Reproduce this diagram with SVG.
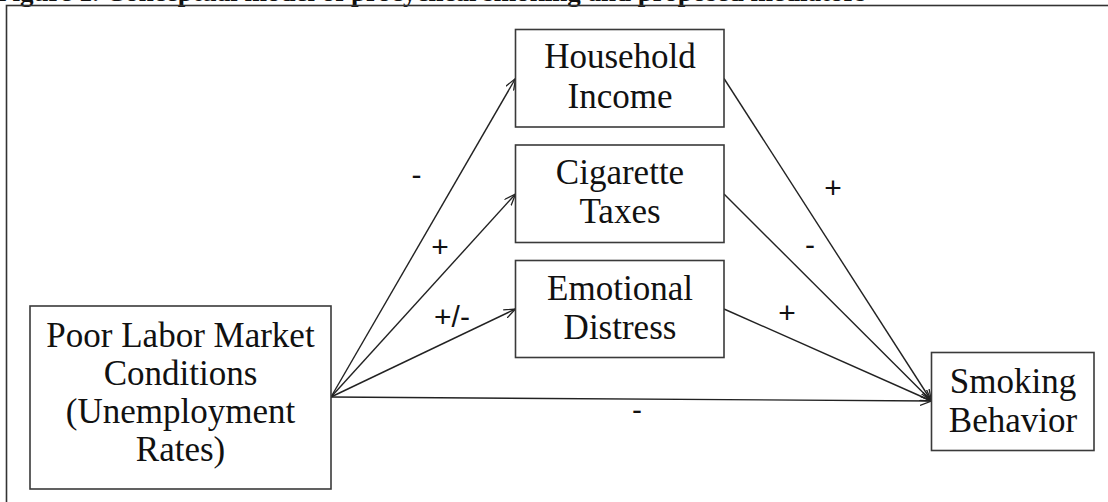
<svg xmlns="http://www.w3.org/2000/svg" width="1108" height="502" viewBox="0 0 1108 502">
<style>
.box{fill:#fff;stroke:#3a3a3a;stroke-width:1.6}
.lbl{font-family:"Liberation Serif","Times New Roman",serif;font-size:35px;fill:#111;text-anchor:middle}
.sign{font-family:"Liberation Sans",Arial,sans-serif;font-size:30px;fill:#111;text-anchor:middle}
.conn{stroke:#222;stroke-width:1.4;fill:none;marker-end:url(#arr)}
</style>
<defs>
<marker id="arr" viewBox="0 0 12 10" refX="11.5" refY="5" markerWidth="12" markerHeight="10" markerUnits="userSpaceOnUse" orient="auto">
<path d="M0,0.5 L11.5,5 L0,9.5" fill="none" stroke="#222" stroke-width="1.3"/>
</marker>
</defs>
<rect width="1108" height="502" fill="#fff"/>
<text x="-4" y="1" font-family="'Liberation Serif','Times New Roman',serif" font-size="27" font-weight="bold" fill="#111">Figure 1. Conceptual model of procyclical smoking and proposed mediators</text>
<rect x="6.5" y="5.5" width="1110" height="510" fill="none" stroke="#333" stroke-width="1.6"/>
<g id="connectors">
<line class="conn" x1="331" y1="397" x2="515.5" y2="78.5"/>
<line class="conn" x1="331" y1="397" x2="515.5" y2="194"/>
<line class="conn" x1="331" y1="397" x2="515.5" y2="309"/>
<line class="conn" x1="331" y1="397" x2="931.5" y2="401"/>
<line class="conn" x1="724" y1="78.5" x2="931.5" y2="401"/>
<line class="conn" x1="724" y1="194" x2="931.5" y2="401"/>
<line class="conn" x1="724" y1="309" x2="931.5" y2="401"/>
<text class="sign" x="416.5" y="185">-</text>
<text class="sign" x="440" y="257">+</text>
<text class="sign" x="452" y="327">+/-</text>
<text class="sign" x="833" y="198">+</text>
<text class="sign" x="810" y="255">-</text>
<text class="sign" x="787" y="323">+</text>
<text class="sign" x="637" y="420">-</text>
</g>
<g id="poor-labor">
<rect class="box" x="30" y="306" width="301" height="183"/>
<text class="lbl" x="180.5" y="347">Poor Labor Market</text>
<text class="lbl" x="180.5" y="385">Conditions</text>
<text class="lbl" x="180.5" y="423">(Unemployment</text>
<text class="lbl" x="180.5" y="461">Rates)</text>
</g>
<g id="household-income">
<rect class="box" x="515.5" y="29.5" width="208.5" height="97.5"/>
<text class="lbl" x="620" y="68">Household</text>
<text class="lbl" x="620" y="108">Income</text>
</g>
<g id="cigarette-taxes">
<rect class="box" x="515.5" y="145" width="208.5" height="97.5"/>
<text class="lbl" x="620" y="184">Cigarette</text>
<text class="lbl" x="620" y="223">Taxes</text>
</g>
<g id="emotional-distress">
<rect class="box" x="515.5" y="260.5" width="208.5" height="97"/>
<text class="lbl" x="620" y="300">Emotional</text>
<text class="lbl" x="620" y="339">Distress</text>
</g>
<g id="smoking-behavior">
<rect class="box" x="931.5" y="352.5" width="162.5" height="98"/>
<text class="lbl" x="1013" y="393">Smoking</text>
<text class="lbl" x="1013" y="432">Behavior</text>
</g>
</svg>
